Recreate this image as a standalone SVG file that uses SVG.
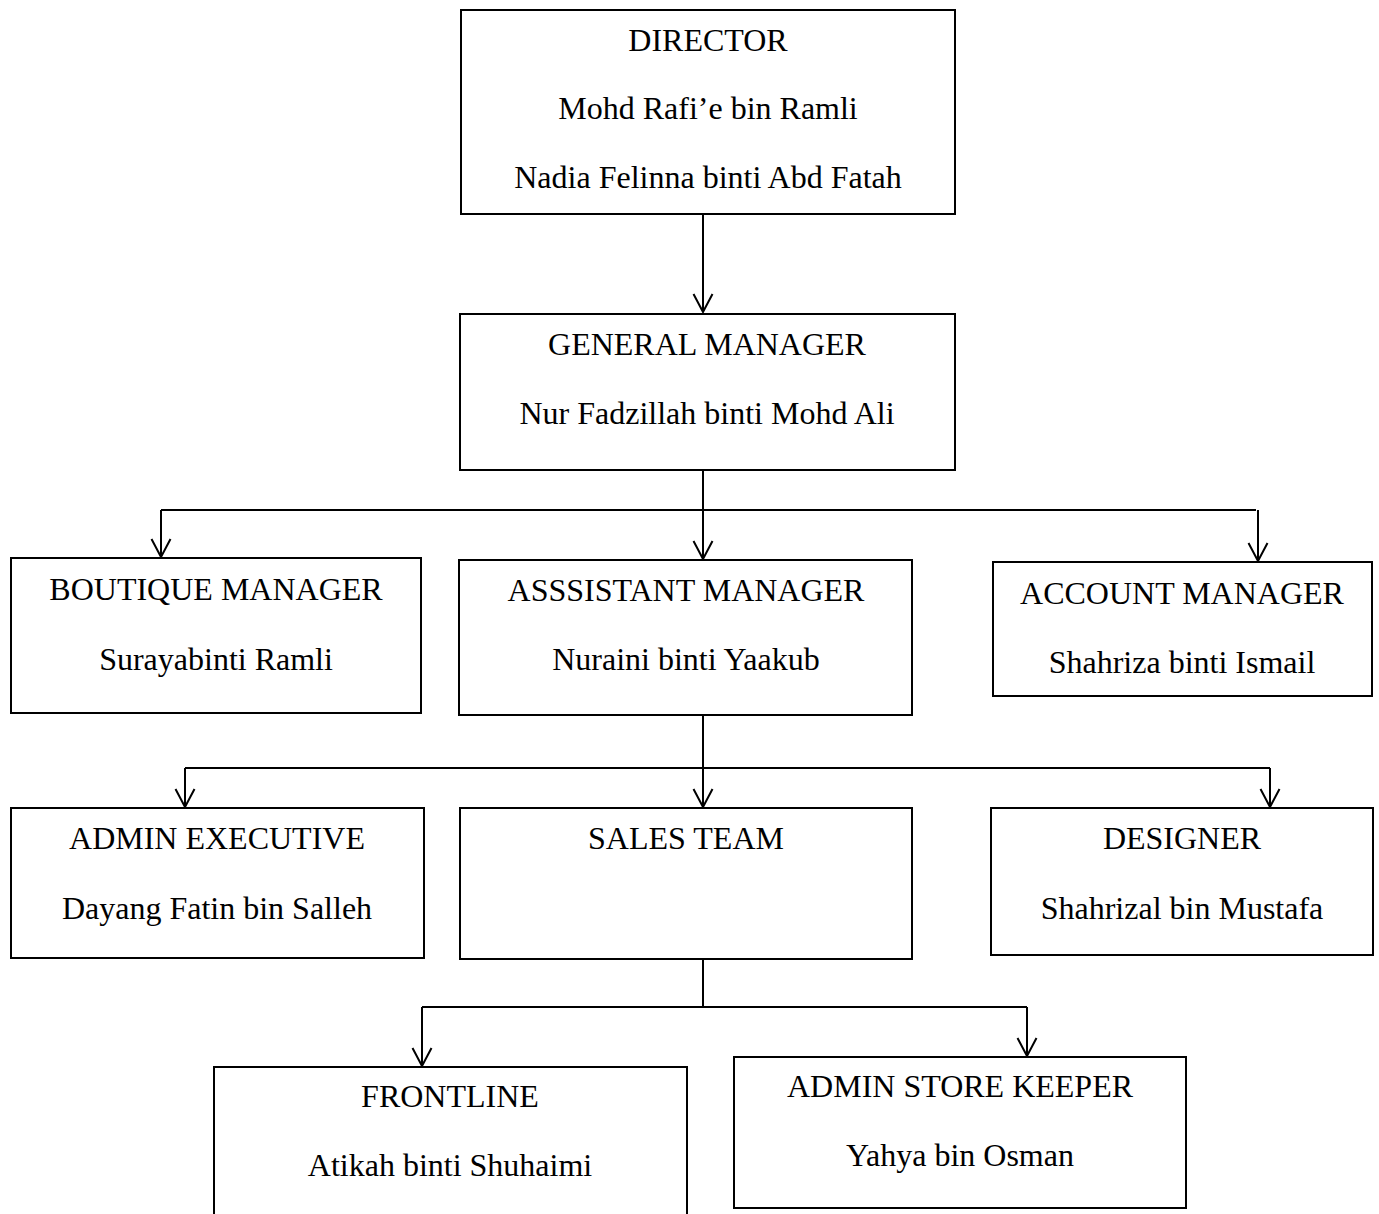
<svg xmlns="http://www.w3.org/2000/svg" width="1379" height="1214" viewBox="0 0 1379 1214">
<style>
rect.box{fill:#fff;stroke:#000;stroke-width:2}
text{font-size:32px;fill:#000;text-anchor:middle}
.conn path{fill:none;stroke:#000;stroke-width:2}
</style>
<defs>
<marker id="arr" viewBox="-20 -11 22 22" refX="0" refY="0" markerWidth="22" markerHeight="22" markerUnits="userSpaceOnUse" orient="auto">
<path d="M-18,-9.5 L0,0 L-18,9.5" fill="none" stroke="#000" stroke-width="2"/>
</marker>
</defs>
<rect width="1379" height="1214" fill="#fff"/>
<g class="conn">
<path d="M703,215 V312" marker-end="url(#arr)"/>
<path d="M703,471 V510"/>
<path d="M161,510 H1256"/>
<path d="M161,510 V557" marker-end="url(#arr)"/>
<path d="M703,510 V559" marker-end="url(#arr)"/>
<path d="M1258,510 V561" marker-end="url(#arr)"/>
<path d="M703,716 V768"/>
<path d="M185,768 H1270"/>
<path d="M185,768 V807" marker-end="url(#arr)"/>
<path d="M703,768 V807" marker-end="url(#arr)"/>
<path d="M1270,768 V807" marker-end="url(#arr)"/>
<path d="M703,959 V1007"/>
<path d="M422,1007 H1027"/>
<path d="M422,1007 V1066" marker-end="url(#arr)"/>
<path d="M1027,1007 V1056" marker-end="url(#arr)"/>
</g>
<g font-family="Liberation Serif, Times New Roman, serif">
<g id="director"><rect class="box" x="461" y="10" width="494" height="204"/><text x="708" y="51">DIRECTOR</text><text x="708" y="119">Mohd Rafi’e bin Ramli</text><text x="708" y="188">Nadia Felinna binti Abd Fatah</text></g>
<g id="general-manager"><rect class="box" x="460" y="314" width="495" height="156"/><text x="707" y="355">GENERAL MANAGER</text><text x="707" y="424">Nur Fadzillah binti Mohd Ali</text></g>
<g id="boutique-manager"><rect class="box" x="11" y="558" width="410" height="155"/><text x="216" y="600">BOUTIQUE MANAGER</text><text x="216" y="670">Surayabinti Ramli</text></g>
<g id="assistant-manager"><rect class="box" x="459" y="560" width="453" height="155"/><text x="686" y="601">ASSSISTANT MANAGER</text><text x="686" y="670">Nuraini binti Yaakub</text></g>
<g id="account-manager"><rect class="box" x="993" y="562" width="379" height="134"/><text x="1182" y="604">ACCOUNT MANAGER</text><text x="1182" y="673">Shahriza binti Ismail</text></g>
<g id="admin-executive"><rect class="box" x="11" y="808" width="413" height="150"/><text x="217" y="849">ADMIN EXECUTIVE</text><text x="217" y="919">Dayang Fatin bin Salleh</text></g>
<g id="sales-team"><rect class="box" x="460" y="808" width="452" height="151"/><text x="686" y="849">SALES TEAM</text></g>
<g id="designer"><rect class="box" x="991" y="808" width="382" height="147"/><text x="1182" y="849">DESIGNER</text><text x="1182" y="919">Shahrizal bin Mustafa</text></g>
<g id="frontline"><rect class="box" x="214" y="1067" width="473" height="160"/><text x="450" y="1107">FRONTLINE</text><text x="450" y="1176">Atikah binti Shuhaimi</text></g>
<g id="admin-store-keeper"><rect class="box" x="734" y="1057" width="452" height="151"/><text x="960" y="1097">ADMIN STORE KEEPER</text><text x="960" y="1166">Yahya bin Osman</text></g>
</g>
</svg>
